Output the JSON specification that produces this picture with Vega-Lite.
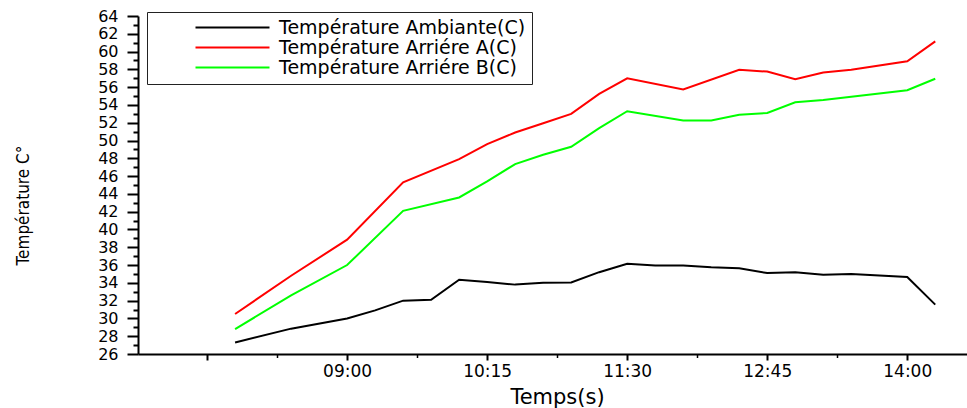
{
  "$schema": "https://vega.github.io/schema/vega-lite/v6.json",
  "width": 829,
  "height": 338,
  "autosize": "none",
  "padding": {"left": 138, "top": 16, "right": 0, "bottom": 54},
  "background": "white",
  "config": {
    "view": {"stroke": null},
    "axis": {"grid": false, "domainColor": "#000000", "domainWidth": 2, "tickColor": "#000000", "labelColor": "#000000", "titleColor": "#000000"}
  },
  "data": {
    "values": [
      {"time": "2000-01-01T08:00", "series": "Température Ambiante(C)", "value": 27.3},
      {"time": "2000-01-01T08:30", "series": "Température Ambiante(C)", "value": 28.85},
      {"time": "2000-01-01T09:00", "series": "Température Ambiante(C)", "value": 30.0},
      {"time": "2000-01-01T09:15", "series": "Température Ambiante(C)", "value": 30.9},
      {"time": "2000-01-01T09:30", "series": "Température Ambiante(C)", "value": 32.0},
      {"time": "2000-01-01T09:45", "series": "Température Ambiante(C)", "value": 32.1},
      {"time": "2000-01-01T10:00", "series": "Température Ambiante(C)", "value": 34.35},
      {"time": "2000-01-01T10:15", "series": "Température Ambiante(C)", "value": 34.1},
      {"time": "2000-01-01T10:30", "series": "Température Ambiante(C)", "value": 33.8},
      {"time": "2000-01-01T10:45", "series": "Température Ambiante(C)", "value": 34.0},
      {"time": "2000-01-01T11:00", "series": "Température Ambiante(C)", "value": 34.05},
      {"time": "2000-01-01T11:15", "series": "Température Ambiante(C)", "value": 35.2},
      {"time": "2000-01-01T11:30", "series": "Température Ambiante(C)", "value": 36.15},
      {"time": "2000-01-01T11:45", "series": "Température Ambiante(C)", "value": 35.95},
      {"time": "2000-01-01T12:00", "series": "Température Ambiante(C)", "value": 35.95},
      {"time": "2000-01-01T12:15", "series": "Température Ambiante(C)", "value": 35.75},
      {"time": "2000-01-01T12:30", "series": "Température Ambiante(C)", "value": 35.65},
      {"time": "2000-01-01T12:45", "series": "Température Ambiante(C)", "value": 35.1},
      {"time": "2000-01-01T13:00", "series": "Température Ambiante(C)", "value": 35.2},
      {"time": "2000-01-01T13:15", "series": "Température Ambiante(C)", "value": 34.9},
      {"time": "2000-01-01T13:30", "series": "Température Ambiante(C)", "value": 35.0},
      {"time": "2000-01-01T14:00", "series": "Température Ambiante(C)", "value": 34.65},
      {"time": "2000-01-01T14:15", "series": "Température Ambiante(C)", "value": 31.55},
      {"time": "2000-01-01T08:00", "series": "Température Arriére A(C)", "value": 30.5},
      {"time": "2000-01-01T08:30", "series": "Température Arriére A(C)", "value": 34.8},
      {"time": "2000-01-01T09:00", "series": "Température Arriére A(C)", "value": 38.85},
      {"time": "2000-01-01T09:30", "series": "Température Arriére A(C)", "value": 45.3},
      {"time": "2000-01-01T10:00", "series": "Température Arriére A(C)", "value": 47.9},
      {"time": "2000-01-01T10:15", "series": "Température Arriére A(C)", "value": 49.6},
      {"time": "2000-01-01T10:30", "series": "Température Arriére A(C)", "value": 50.9},
      {"time": "2000-01-01T10:45", "series": "Température Arriére A(C)", "value": 51.95},
      {"time": "2000-01-01T11:00", "series": "Température Arriére A(C)", "value": 53.0},
      {"time": "2000-01-01T11:15", "series": "Température Arriére A(C)", "value": 55.25},
      {"time": "2000-01-01T11:30", "series": "Température Arriére A(C)", "value": 57.0},
      {"time": "2000-01-01T12:00", "series": "Température Arriére A(C)", "value": 55.75},
      {"time": "2000-01-01T12:30", "series": "Température Arriére A(C)", "value": 57.95},
      {"time": "2000-01-01T12:45", "series": "Température Arriére A(C)", "value": 57.75},
      {"time": "2000-01-01T13:00", "series": "Température Arriére A(C)", "value": 56.9},
      {"time": "2000-01-01T13:15", "series": "Température Arriére A(C)", "value": 57.65},
      {"time": "2000-01-01T13:30", "series": "Température Arriére A(C)", "value": 57.95},
      {"time": "2000-01-01T14:00", "series": "Température Arriére A(C)", "value": 58.9},
      {"time": "2000-01-01T14:15", "series": "Température Arriére A(C)", "value": 61.15},
      {"time": "2000-01-01T08:00", "series": "Température Arriére B(C)", "value": 28.8},
      {"time": "2000-01-01T08:30", "series": "Température Arriére B(C)", "value": 32.6},
      {"time": "2000-01-01T09:00", "series": "Température Arriére B(C)", "value": 36.0},
      {"time": "2000-01-01T09:30", "series": "Température Arriére B(C)", "value": 42.1},
      {"time": "2000-01-01T10:00", "series": "Température Arriére B(C)", "value": 43.6},
      {"time": "2000-01-01T10:15", "series": "Température Arriére B(C)", "value": 45.4},
      {"time": "2000-01-01T10:30", "series": "Température Arriére B(C)", "value": 47.35},
      {"time": "2000-01-01T10:45", "series": "Température Arriére B(C)", "value": 48.4},
      {"time": "2000-01-01T11:00", "series": "Température Arriére B(C)", "value": 49.3},
      {"time": "2000-01-01T11:15", "series": "Température Arriére B(C)", "value": 51.4},
      {"time": "2000-01-01T11:30", "series": "Température Arriére B(C)", "value": 53.3},
      {"time": "2000-01-01T12:00", "series": "Température Arriére B(C)", "value": 52.25},
      {"time": "2000-01-01T12:15", "series": "Température Arriére B(C)", "value": 52.25},
      {"time": "2000-01-01T12:30", "series": "Température Arriére B(C)", "value": 52.9},
      {"time": "2000-01-01T12:45", "series": "Température Arriére B(C)", "value": 53.1},
      {"time": "2000-01-01T13:00", "series": "Température Arriére B(C)", "value": 54.3},
      {"time": "2000-01-01T13:15", "series": "Température Arriére B(C)", "value": 54.55},
      {"time": "2000-01-01T14:00", "series": "Température Arriére B(C)", "value": 55.65},
      {"time": "2000-01-01T14:15", "series": "Température Arriére B(C)", "value": 56.95}
    ]
  },
  "resolve": {"axis": {"x": "independent", "y": "independent"}},
  "layer": [
    {
      "transform": [{"filter": "datum.series == 'Température Ambiante(C)'"}],
      "mark": {"type": "line", "strokeWidth": 2, "clip": true},
      "encoding": {
        "x": {
          "field": "time",
          "type": "temporal",
          "scale": {"domain": [
            {"year": 2000, "month": 1, "date": 1, "hours": 7, "minutes": 8},
            {"year": 2000, "month": 1, "date": 1, "hours": 14, "minutes": 32}
          ]},
          "axis": {
            "orient": "bottom",
            "values": [
              {"year": 2000, "month": 1, "date": 1, "hours": 9, "minutes": 0},
              {"year": 2000, "month": 1, "date": 1, "hours": 10, "minutes": 15},
              {"year": 2000, "month": 1, "date": 1, "hours": 11, "minutes": 30},
              {"year": 2000, "month": 1, "date": 1, "hours": 12, "minutes": 45},
              {"year": 2000, "month": 1, "date": 1, "hours": 14, "minutes": 0}
            ],
            "format": "%H:%M",
            "tickSize": 6,
            "tickWidth": 2,
            "labelFont": "DejaVu Sans",
            "labelFontSize": 17,
            "labelPadding": 3,
            "labelFlush": false,
            "labelOverlap": false,
            "title": "Temps(s)",
            "titleFont": "DejaVu Sans",
            "titleFontSize": 21,
            "titleFontWeight": "normal",
            "titleX": 419,
            "titleY": 49,
            "titleBaseline": "alphabetic",
            "titleAlign": "center"
          }
        },
        "y": {
          "field": "value",
          "type": "quantitative",
          "scale": {"domain": [26, 64], "nice": false, "zero": false},
          "axis": {
            "orient": "left",
            "values": [26, 28, 30, 32, 34, 36, 38, 40, 42, 44, 46, 48, 50, 52, 54, 56, 58, 60, 62, 64],
            "tickSize": 11,
            "tickWidth": 2,
            "labelFont": "DejaVu Sans",
            "labelFontSize": 16,
            "labelPadding": 9,
            "labelOverlap": false,
            "labelFlush": false,
            "title": "Température C°",
            "titleFont": "'DejaVu Sans Condensed', 'Liberation Sans', sans-serif",
            "titleFontSize": 17,
            "titleFontWeight": "normal",
            "titleX": -115,
            "titleY": 189,
            "titleAngle": -90,
            "titleAlign": "center",
            "titleBaseline": "middle"
          }
        },
        "color": {
          "field": "series",
          "type": "nominal",
          "scale": {
            "domain": ["Température Ambiante(C)", "Température Arriére A(C)", "Température Arriére B(C)"],
            "range": ["#000000", "#ff0000", "#00ff00"]
          },
          "legend": {
            "title": null,
            "orient": "none",
            "legendX": 9,
            "legendY": -4,
            "fillColor": "white",
            "strokeColor": "#222222",
            "padding": 6,
            "symbolType": "M-5,0H5",
            "symbolSize": 219,
            "symbolStrokeWidth": 2,
            "symbolOffset": 70,
            "labelOffset": 37,
            "labelFont": "DejaVu Sans",
            "labelFontSize": 19,
            "labelColor": "#000000",
            "labelLimit": 0,
            "rowPadding": 0
          }
        }
      }
    },
    {
      "transform": [{"filter": "datum.series != 'Température Ambiante(C)'"}],
      "mark": {"type": "line", "strokeWidth": 2, "clip": true},
      "encoding": {
        "x": {
          "field": "time",
          "type": "temporal",
          "axis": {
            "orient": "bottom",
            "values": [
              {"year": 2000, "month": 1, "date": 1, "hours": 7, "minutes": 45},
              {"year": 2000, "month": 1, "date": 1, "hours": 8, "minutes": 22, "seconds": 30},
              {"year": 2000, "month": 1, "date": 1, "hours": 9, "minutes": 37, "seconds": 30},
              {"year": 2000, "month": 1, "date": 1, "hours": 10, "minutes": 52, "seconds": 30},
              {"year": 2000, "month": 1, "date": 1, "hours": 12, "minutes": 7, "seconds": 30},
              {"year": 2000, "month": 1, "date": 1, "hours": 13, "minutes": 22, "seconds": 30}
            ],
            "tickSize": {"condition": {"test": "seconds(datum.value) == 0", "value": 6}, "value": 3.5},
            "tickWidth": {"condition": {"test": "seconds(datum.value) == 0", "value": 2}, "value": 1.5},
            "labels": false,
            "domain": false,
            "title": null
          }
        },
        "y": {
          "field": "value",
          "type": "quantitative",
          "axis": {
            "orient": "left",
            "values": [27, 29, 31, 33, 35, 37, 39, 41, 43, 45, 47, 49, 51, 53, 55, 57, 59, 61, 63],
            "tickSize": 5,
            "tickWidth": 2,
            "labels": false,
            "domain": false,
            "title": null
          }
        },
        "color": {
          "field": "series",
          "type": "nominal",
          "legend": {
            "title": null,
            "orient": "none",
            "legendX": 9,
            "legendY": -4,
            "fillColor": "white",
            "strokeColor": "#222222",
            "padding": 6,
            "symbolType": "M-5,0H5",
            "symbolSize": 219,
            "symbolStrokeWidth": 2,
            "symbolOffset": 70,
            "labelOffset": 37,
            "labelFont": "DejaVu Sans",
            "labelFontSize": 19,
            "labelColor": "#000000",
            "labelLimit": 0,
            "rowPadding": 0
          }
        }
      }
    }
  ]
}
